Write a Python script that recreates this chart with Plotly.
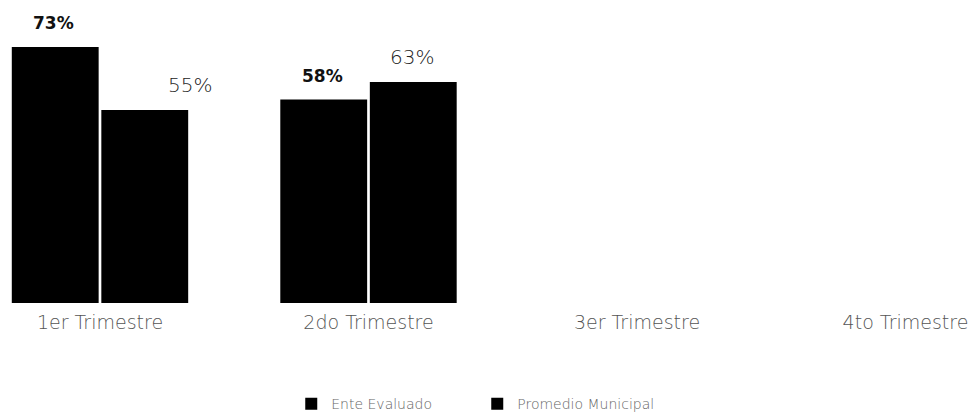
import plotly.graph_objects as go

categories = ["1er Trimestre", "2do Trimestre", "3er Trimestre", "4to Trimestre"]
ente_evaluado = [73, 58, None, None]
promedio_municipal = [55, 63, None, None]
series_names = ["Ente Evaluado", "Promedio Municipal"]

fig = go.Figure()
fig.add_trace(go.Bar(name=series_names[0], x=categories, y=ente_evaluado,
                     marker=dict(color="#000000", line=dict(width=0))))
fig.add_trace(go.Bar(name=series_names[1], x=categories, y=promedio_municipal,
                     marker=dict(color="#000000", line=dict(width=0))))

annotations = []
for i, c in enumerate(categories):
    v = ente_evaluado[i]
    if v is not None:
        annotations.append(dict(x=c, y=v, text=f"<b>{v}%</b>", showarrow=False,
                                xshift=-46, yshift=24, yanchor="middle",
                                font=dict(family="DejaVu Sans", size=17, color="#111111")))
    v = promedio_municipal[i]
    if v is not None:
        annotations.append(dict(x=c, y=v, text=f"{v}%", showarrow=False,
                                xshift=44 + (46 if i == 0 else 0), yshift=25, yanchor="middle",
                                font=dict(family="DejaVu Sans", size=20, color="#222222",
                                          weight=300)))

fig.update_layout(
    width=972, height=414,
    margin=dict(l=0, r=0, t=0, b=111),
    paper_bgcolor="white", plot_bgcolor="white",
    barmode="group", bargap=0.333, bargroupgap=0.03,
    showlegend=True,
    legend=dict(orientation="h", x=0.491, xanchor="center",
                yref="container", y=0.024, yanchor="middle",
                font=dict(family="DejaVu Sans", size=14, color="#666666", weight=300),
                itemwidth=30, entrywidth=141, entrywidthmode="pixels",
                traceorder="normal"),
    xaxis=dict(type="category", range=[-0.3724, 3.2477], showgrid=False, showline=False,
               zeroline=False, ticks="outside", ticklen=2, tickcolor="rgba(0,0,0,0)",
               tickfont=dict(family="DejaVu Sans", size=19, color="#555555", weight=300)),
    yaxis=dict(range=[0, 86.4], visible=False, showgrid=False, zeroline=False),
    annotations=annotations,
)

fig.write_html("out.html", config={"displayModeBar": False},
               post_script="document.body.style.margin='0';")
